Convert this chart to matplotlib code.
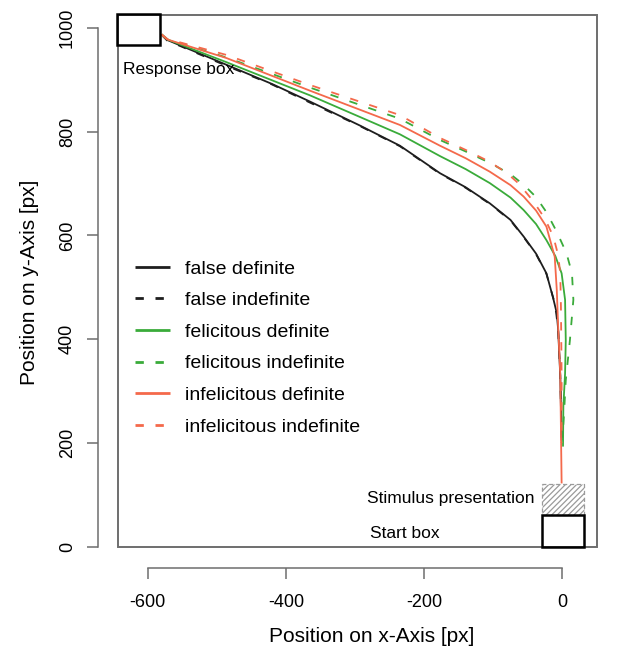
"""Mean mouse trajectories per condition, drawn in screen coordinates."""

import matplotlib

matplotlib.use("Agg")
import matplotlib.pyplot as plt
from matplotlib.patches import Rectangle

plt.rcParams["font.family"] = ["Liberation Sans", "DejaVu Sans"]
plt.rcParams["lines.scale_dashes"] = False
plt.rcParams["hatch.linewidth"] = 0.9
plt.rcParams["axes.unicode_minus"] = False

# averaged trajectories (screen px)
false_def_x = [-580, -572, -486, -420, -365, -293, -235, -177, -140, -105, -75, -56, -38, -23, -13, -8, -6, -3, -1]
false_def_y = [987, 977, 929, 892, 858, 812, 773, 720, 693, 662, 630, 598, 565, 527, 478, 450, 418, 330, 205]
false_indef_x = [-580, -572, -486, -420, -365, -293, -235, -177, -140, -105, -75, -56, -38, -23, -13, -9, -6, -3, -1]
false_indef_y = [987, 976, 927, 891, 856, 811, 772, 719, 692, 661, 629, 597, 564, 526, 479, 452, 418, 330, 210]
fel_def_x = [-580, -572, -486, -365, -235, -177, -140, -105, -75, -56, -38, -23, -10, -1, 4, 5, 4, 1.5, 1]
fel_def_y = [987, 978, 934, 870, 795, 753, 728, 701, 673, 649, 622, 591, 560, 527, 476, 398, 334, 270, 193]
fel_indef_x = [-580, -572, -486, -365, -235, -177, -140, -105, -75, -56, -38, -23, -8, 6, 14, 16, 11, 5, 2.5, 1]
fel_indef_y = [988, 979, 943, 885, 825, 784, 762, 740, 718, 698, 674, 645, 607, 566, 527, 476, 398, 321, 257, 225]
infel_def_x = [-580, -572, -486, -365, -235, -177, -140, -105, -75, -56, -38, -23, -11, -8, -6, -3, -1]
infel_def_y = [987, 978, 942, 879, 813, 773, 749, 723, 697, 675, 648, 617, 559, 495, 424, 334, 122]
infel_indef_x = [-580, -572, -486, -365, -235, -177, -140, -105, -80, -63, -42, -25, -13, -6, -3, -2, -1, -1]
infel_indef_y = [988, 979, 948, 890, 832, 788, 765, 742, 720, 700, 666, 632, 598, 562, 527, 463, 330, 200]

labels = ["false definite", "false indefinite", "felicitous definite",
          "felicitous indefinite", "infelicitous definite", "infelicitous indefinite"]
xs = [false_def_x, false_indef_x, fel_def_x, fel_indef_x, infel_def_x, infel_indef_x]
ys = [false_def_y, false_indef_y, fel_def_y, fel_indef_y, infel_def_y, infel_indef_y]

# screen layout (px)
screen = (-643, 0, 693.2, 1025)
response_box = (-645, 967, 63, 59)
start_box = (-30, 0, 62, 61)
stimulus_area = (-30, 61, 62, 60)

black, green, orange, grey = "#1e1e1e", "#3aab3a", "#f4694b", "#6e6e6e"
colors = [black, black, green, green, orange, orange]
dashed = [False, True, False, True, False, True]

W, H = 634, 651
fig = plt.figure(figsize=(W / 100, H / 100), dpi=100)
ax = fig.add_axes([118 / W, (H - 546.7) / H, 479 / W, 531.7 / H])
ax.set_xlim(-643, 50.2)
ax.set_ylim(0, 1025)

for x, y, color, is_dashed, label in zip(xs, ys, colors, dashed, labels):
    line, = ax.plot(x, y, color=color, linewidth=1.3, label=label, solid_capstyle="butt")
    if is_dashed:
        line.set_dashes((6, 8.4))

ax.add_patch(Rectangle(screen[:2], screen[2], screen[3], fill=False, ec=grey, lw=1.4,
                       clip_on=False))
ax.add_patch(Rectangle(response_box[:2], response_box[2], response_box[3], fill=False,
                       ec="black", lw=1.8, clip_on=False, zorder=4))
ax.add_patch(Rectangle(start_box[:2], start_box[2], start_box[3], fill=False,
                       ec="black", lw=1.8, clip_on=False, zorder=4))
ax.add_patch(Rectangle(stimulus_area[:2], stimulus_area[2], stimulus_area[3], fill=False,
                       ec="#9a9a9a", lw=0.9, ls=(0, (3, 2)), hatch="//////", zorder=3))

ax.text(-636, 919, "Response box", fontsize=12.5, ha="left", va="center")
ax.text(-40, 92, "Stimulus presentation", fontsize=12.5, ha="right", va="center")
ax.text(-228, 26, "Start box", fontsize=12.5, ha="center", va="center")

for side in ("top", "right"):
    ax.spines[side].set_visible(False)
ax.spines["left"].set_position(("outward", 14.4))
ax.spines["bottom"].set_position(("outward", 15.3))
ax.spines["left"].set_bounds(0, 1000)
ax.spines["bottom"].set_bounds(-600, 0)
for side in ("left", "bottom"):
    ax.spines[side].set_color(grey)
    ax.spines[side].set_linewidth(1.1)
ax.set_xticks([-600, -400, -200, 0])
ax.set_yticks([0, 200, 400, 600, 800, 1000])
ax.tick_params(length=7.9, width=1.1, color=grey, labelsize=13, pad=11)
ax.tick_params(axis="y", labelrotation=90, pad=8)
for lab in ax.get_yticklabels():
    lab.set_va("center")

fig.text(372 / W, 1 - 636 / H, "Position on x-Axis [px]", fontsize=15, ha="center", va="center")
fig.text(30 / W, 1 - 282 / H, "Position on y-Axis [px]", fontsize=15, ha="center", va="center",
         rotation=90)

leg = ax.legend(loc="upper left", bbox_to_anchor=(135 / W, 1 - 260 / H),
                bbox_transform=fig.transFigure, frameon=False, fontsize=14,
                handlelength=1.8, handletextpad=0.75, labelspacing=0.72,
                borderpad=0, borderaxespad=0)
for handle in leg.legend_handles:
    handle.set_linewidth(2.0)

fig.savefig("out.png", dpi=100)
